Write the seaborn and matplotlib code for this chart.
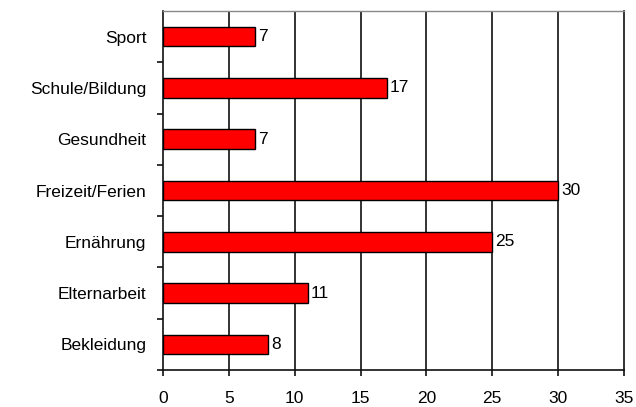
import matplotlib
matplotlib.use("Agg")
import matplotlib.pyplot as plt
import seaborn as sns
import pandas as pd
import numpy as np

categories = ["Sport", "Schule/Bildung", "Gesundheit", "Freizeit/Ferien",
              "Ernährung", "Elternarbeit", "Bekleidung"]
values = [7, 17, 7, 30, 25, 11, 8]
xticks = [0, 5, 10, 15, 20, 25, 30, 35]

sns.set_theme(style="white")
plt.rcParams['font.family'] = ['Liberation Sans', 'DejaVu Sans']
plt.rcParams['text.color'] = 'black'
plt.rcParams['xtick.labelcolor'] = 'black'
plt.rcParams['ytick.labelcolor'] = 'black'

df = pd.DataFrame({"Kategorie": categories, "Wert": values})

fig = plt.figure(figsize=(6.36, 4.07), dpi=100)
ax = fig.add_axes([163/636, 1 - 370/407, (624-163)/636, (370-11)/407])

sns.barplot(data=df, y="Kategorie", x="Wert", orient="h", color="#FF0000",
            saturation=1, width=0.38, edgecolor="black", linewidth=1.0,
            ax=ax, zorder=3)

ax.set_xlim(0, 35)
ax.set_ylim(len(categories) - 0.5, -0.5)
ax.set_xticks(xticks)
ax.set_xticklabels([str(t) for t in xticks])
ax.set_xlabel("")
ax.set_ylabel("")

ax.grid(False)
for t in xticks[1:-1]:
    ax.axvline(t, color="#111111", lw=1.2, zorder=1)

for s in ["left", "bottom", "right"]:
    ax.spines[s].set_color("#111111")
    ax.spines[s].set_linewidth(1.2)
ax.spines["top"].set_color("#888888")
ax.spines["top"].set_linewidth(1.0)

ax.tick_params(axis="x", which="major", direction="out", length=4, width=1.2,
               color="#111111", pad=11, labelsize=12.5, bottom=True,
               labelcolor="black")
ax.tick_params(axis="y", which="major", length=0, pad=12, labelsize=12.5,
               labelcolor="black")
ax.set_yticks(np.arange(0.5, len(categories) + 0.5, 1.0), minor=True)
ax.tick_params(axis="y", which="minor", direction="out", length=4, width=1.2,
               color="#111111", left=True)

for i, v in enumerate(values):
    ax.annotate(str(v), xy=(v, i), xytext=(2, 0), textcoords="offset points",
                ha="left", va="center", fontsize=12.5, color="black", zorder=4)

fig.savefig("out.png", dpi=100, facecolor="white")
